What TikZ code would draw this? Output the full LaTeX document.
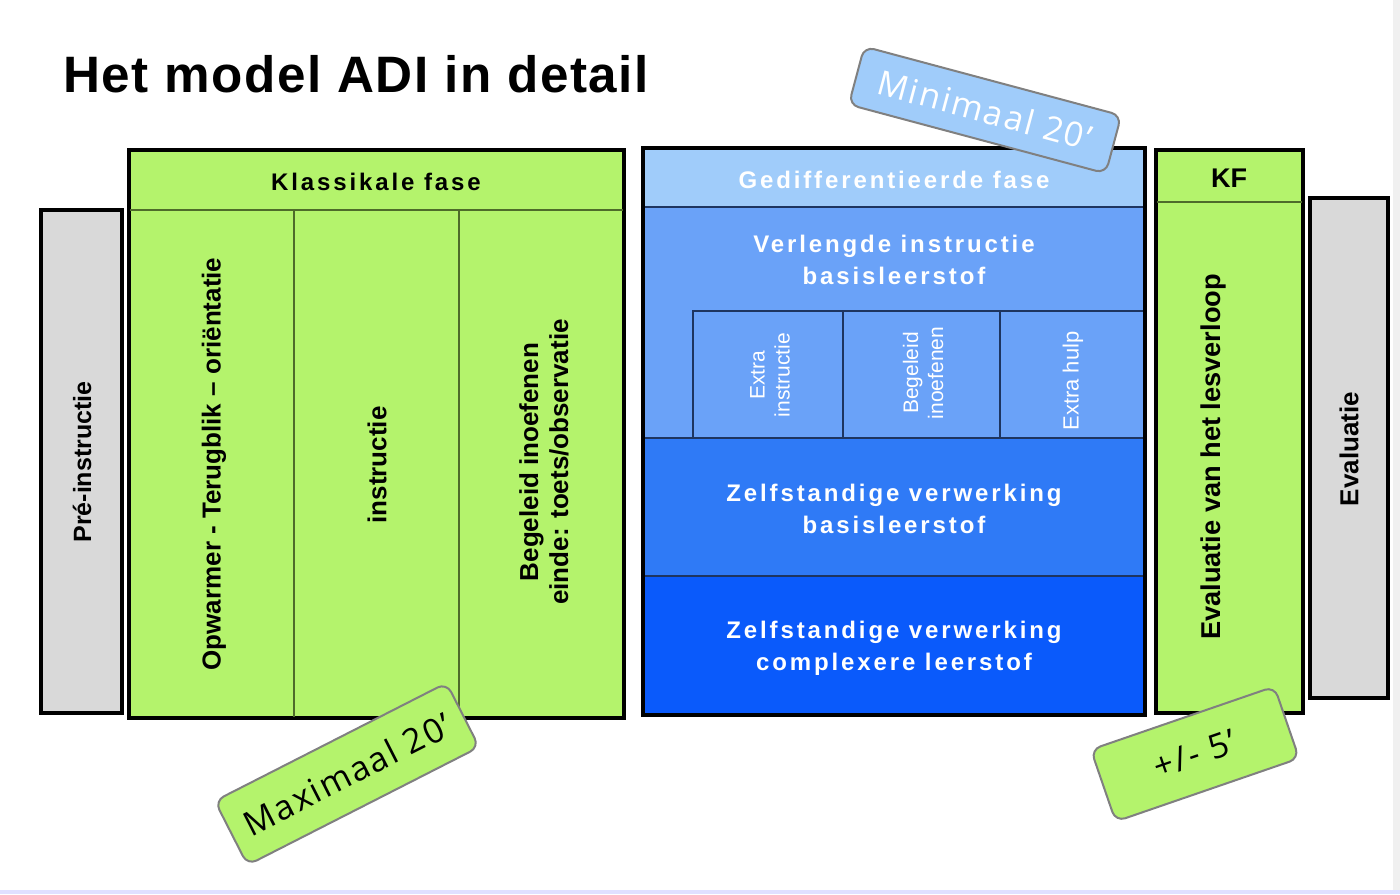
\documentclass[tikz,border=0pt]{standalone}
\usepackage{fontspec}
\setmainfont{Liberation Sans}
\newfontfamily\spaced{Liberation Sans}[LetterSpace=12]
\newfontfamily\titlefont{Liberation Sans}[LetterSpace=3]
\newfontfamily\calloutfont{Open Sans}[LetterSpace=6]
\definecolor{kgreen}{HTML}{B4F36C}
\definecolor{kgrey}{HTML}{D9D9D9}
\definecolor{bhead}{HTML}{A0CCFA}
\definecolor{bmid}{HTML}{6AA2F8}
\definecolor{bzelf}{HTML}{2F7AF6}
\definecolor{bcomp}{HTML}{0A5AFB}
\definecolor{gline}{HTML}{4E6B2A}
\definecolor{bline}{HTML}{1E3560}
\tikzset{
  outerbox/.style={draw=black, line width=2pt},
  gdiv/.style={draw=gline, line width=0.8pt},
  bdiv/.style={draw=bline, line width=0.8pt},
  vtxt/.style={rotate=90, align=center, font=\bfseries\fontsize{13}{15}\selectfont, inner sep=0pt},
  htxt/.style={align=center, font=\spaced\bfseries\fontsize{12}{16}\selectfont, inner sep=0pt},
  wtxt/.style={htxt, text=white},
  smalltxt/.style={rotate=90, align=center, text=white, font=\fontsize{10.5}{12.5}\selectfont, inner sep=0pt},
  callout/.style={draw=black!50, line width=1pt, rounded corners=5pt, font=\calloutfont\fontsize{17}{20}\selectfont, inner sep=0pt}
}
\begin{document}
\begin{tikzpicture}[x=0.5pt,y=-0.5pt]
\useasboundingbox (0,0) rectangle (1400,894);
\fill[white] (0,0) rectangle (1400,894);
\fill[black!6] (1393,0) rectangle (1400,894);
\fill[blue!12!white] (0,890) rectangle (1400,894);

% title
\node[anchor=base, font=\titlefont\bfseries\fontsize{25.6}{29}\selectfont, inner sep=0pt] (title) at (356,92) {Het model ADI in detail};

% Pre-instructie
\draw[outerbox, fill=kgrey] (41,210) rectangle (122,713);
\node[vtxt, font=\bfseries\fontsize{12.5}{15}\selectfont] (pre) at (82,462) {Pré-instructie};

% Klassikale fase
\draw[outerbox, fill=kgreen] (129,150) rectangle (624,718);
\draw[gdiv] (130,210) -- (623,210);
\draw[gdiv] (294,210) -- (294,717);
\draw[gdiv] (459,210) -- (459,717);
\node[htxt] (klas) at (376,182) {Klassikale fase};
\node[vtxt] (opw) at (214,464) {Opwarmer - Terugblik – oriëntatie};
\node[vtxt] (instr) at (377,465) {instructie};
\node[vtxt] (begel) at (544,462) {Begeleid inoefenen\\einde: toets/observatie};

% Gedifferentieerde fase
\fill[bhead] (643,148) rectangle (1145,207);
\fill[bmid] (643,207) rectangle (1145,438);
\fill[bzelf] (643,438) rectangle (1145,576);
\fill[bcomp] (643,576) rectangle (1145,715);
\draw[bdiv] (643,207) -- (1145,207);
\draw[bdiv] (693,311) rectangle (1145,438);
\draw[bdiv] (843,311) -- (843,438);
\draw[bdiv] (1000,311) -- (1000,438);
\draw[bdiv] (643,438) -- (1145,438);
\draw[bdiv] (643,576) -- (1145,576);
\draw[outerbox] (643,148) rectangle (1145,715);
\node[wtxt] (gedif) at (894,180) {Gedifferentieerde fase};
\node[wtxt] (verl) at (894,260) {Verlengde instructie\\basisleerstof};
\node[smalltxt] (extra) at (770,375) {Extra\\instructie};
\node[smalltxt] (begin) at (923,373) {Begeleid\\inoefenen};
\node[smalltxt, font=\fontsize{11}{13}\selectfont] (hulp) at (1073,381) {Extra hulp};
\node[wtxt] (zelfb) at (894,509) {Zelfstandige verwerking\\basisleerstof};
\node[wtxt] (zelfc) at (894,648) {Zelfstandige verwerking\\complexere leerstof};

% KF
\draw[outerbox, fill=kgreen] (1156,150) rectangle (1303,713);
\draw[gdiv] (1157,202) -- (1302,202);
\node[font=\bfseries\fontsize{13.5}{16}\selectfont, inner sep=0pt] (kf) at (1229,178) {KF};
\node[vtxt, font=\bfseries\fontsize{13.6}{16}\selectfont] (evles) at (1213,457) {Evaluatie van het lesverloop};

% Evaluatie
\draw[outerbox, fill=kgrey] (1310,198) rectangle (1388,698);
\node[vtxt] (eval) at (1349,449) {Evaluatie};

% callouts
\node[callout, fill=bhead, text=white, rotate=-15, minimum width=133pt, minimum height=30pt] (mini) at (985,110) {Minimaal 20’};
\node[callout, fill=kgreen, text=black, rotate=27, minimum width=130pt, minimum height=36pt] (maxi) at (347,774) {Maximaal 20’};
\node[callout, fill=kgreen, text=black, rotate=19, minimum width=97pt, minimum height=38pt] (pm) at (1195,754) {+/- 5’};
\end{tikzpicture}
\end{document}
